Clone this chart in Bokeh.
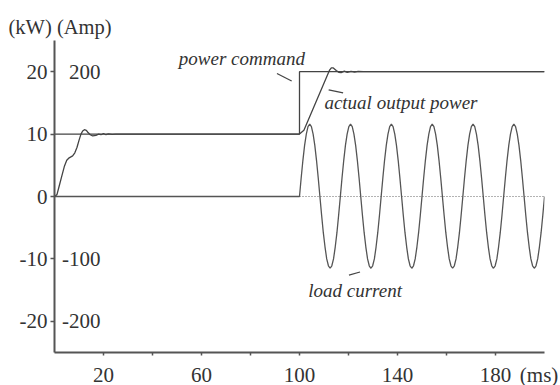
from bokeh.plotting import figure
from bokeh.models import FixedTicker, Label, Range1d, LinearAxis
from bokeh.embed import file_html
from bokeh.resources import INLINE

# ---------------- data ----------------
# power command (kW) vs time (ms)
cmd_t = [0, 100, 100, 200]
cmd_kw = [10, 10, 20, 20]

# actual output power (kW) vs time (ms)
act_t = [0, 1.0, 2.0, 3.0, 4.0, 5.0, 6.0, 7.4, 8.3, 9.2, 10.0, 10.8, 11.5, 12.2, 13.0,
         13.6, 14.6, 15.6, 16.9, 18.0, 19.0, 20.0, 21.0, 22.0, 23.5, 25.0, 100.0,
         101.8, 112.2, 113.0, 113.8, 115.0, 116.0, 117.0, 118.3, 119.5, 121.0, 122.5,
         124.0, 126.0, 200.0]
act_kw = [0, 0.3, 1.8, 3.3, 4.8, 5.8, 6.2, 6.5, 7.0, 7.9, 9.0, 10.0, 10.5, 10.7, 10.6,
          10.3, 9.9, 9.7, 9.8, 10.0, 9.9, 10.1, 9.9, 10.05, 9.95, 10.0, 10.0,
          10.6, 20.2, 20.6, 20.6, 20.2, 19.9, 19.85, 20.1, 19.9, 20.05, 19.95,
          20.05, 20.0, 20.0]

# load current (Amp) vs time (ms)
cur_t = [0,
         100.00, 100.69, 101.39, 102.08, 102.78, 103.47, 104.17, 104.86, 105.56, 106.25, 106.94, 107.64,
         108.33, 109.03, 109.72, 110.42, 111.11, 111.81, 112.50, 113.19, 113.89, 114.58, 115.28, 115.97,
         116.67, 117.36, 118.06, 118.75, 119.44, 120.14, 120.83, 121.53, 122.22, 122.92, 123.61, 124.31,
         125.00, 125.69, 126.39, 127.08, 127.78, 128.47, 129.17, 129.86, 130.56, 131.25, 131.94, 132.64,
         133.33, 134.03, 134.72, 135.42, 136.11, 136.81, 137.50, 138.19, 138.89, 139.58, 140.28, 140.97,
         141.67, 142.36, 143.06, 143.75, 144.44, 145.14, 145.83, 146.53, 147.22, 147.92, 148.61, 149.31,
         150.00, 150.69, 151.39, 152.08, 152.78, 153.47, 154.17, 154.86, 155.56, 156.25, 156.94, 157.64,
         158.33, 159.03, 159.72, 160.42, 161.11, 161.81, 162.50, 163.19, 163.89, 164.58, 165.28, 165.97,
         166.67, 167.36, 168.06, 168.75, 169.44, 170.14, 170.83, 171.53, 172.22, 172.92, 173.61, 174.31,
         175.00, 175.69, 176.39, 177.08, 177.78, 178.47, 179.17, 179.86, 180.56, 181.25, 181.94, 182.64,
         183.33, 184.03, 184.72, 185.42, 186.11, 186.81, 187.50, 188.19, 188.89, 189.58, 190.28, 190.97,
         191.67, 192.36, 193.06, 193.75, 194.44, 195.14, 195.83, 196.53, 197.22, 197.92, 198.61, 199.31,
         200.00]
cur_a = [0,
         0, 30, 58, 82, 100, 112, 116, 112, 100, 82, 58, 30,
         0, -30, -58, -81, -100, -111, -115, -111, -100, -81, -58, -30,
         0, 30, 58, 82, 100, 112, 116, 112, 100, 82, 58, 30,
         0, -30, -58, -81, -100, -111, -115, -111, -100, -81, -58, -30,
         0, 30, 58, 82, 100, 112, 116, 112, 100, 82, 58, 30,
         0, -30, -58, -81, -100, -111, -115, -111, -100, -81, -58, -30,
         0, 30, 58, 82, 100, 112, 116, 112, 100, 82, 58, 30,
         0, -30, -58, -81, -100, -111, -115, -111, -100, -81, -58, -30,
         0, 30, 58, 82, 100, 112, 116, 112, 100, 82, 58, 30,
         0, -30, -58, -81, -100, -111, -115, -111, -100, -81, -58, -30,
         0, 30, 58, 82, 100, 112, 116, 112, 100, 82, 58, 30,
         0, -30, -58, -81, -100, -111, -115, -111, -100, -81, -58, -30,
         0]

# zero reference (dotted) after the load is applied
zero_t = [100, 200]
zero_v = [0, 0]

# ticks
x_ticks = [20, 40, 60, 80, 100, 120, 140, 160, 180]
x_label_ticks = [20, 60, 100, 140, 180, 197.8]
x_label_text = {20: "20", 60: "60", 100: "100", 140: "140", 180: "180", 197.8: "(ms)"}
kw_ticks = [-20, -10, 0, 10, 20]
kw_tick_labels = {-20: "-20", -10: "-10", 0: "0", 10: "10", 20: "20"}
amp_labels = ["200", "-100", "-200"]
amp_label_vals = [200, -100, -200]

# ---------------- styling ----------------
FONT = "Liberation Serif"
TXT = "#333333"
LINE = "#444444"
AXC = "#555555"
FS = "21px"      # upright texts
FSI = "19px"     # italic annotations

p = figure(frame_width=490, frame_height=312, x_range=(0, 200), y_range=(-25, 25),
           output_backend="svg", toolbar_location=None,
           min_border_left=54, min_border_top=40, min_border_right=16, min_border_bottom=33)
p.extra_y_ranges = {"amp": Range1d(-250, 250)}
p.grid.visible = False
p.outline_line_color = None
p.background_fill_color = "white"
p.border_fill_color = "white"

def style_axis(ax):
    ax.major_label_text_font = FONT
    ax.major_label_text_font_size = FS
    ax.major_label_text_color = TXT
    ax.minor_tick_line_color = None

for ax in (p.xaxis[0], p.yaxis[0]):
    style_axis(ax)
    ax.axis_line_color = AXC
    ax.axis_line_width = 2
    ax.major_tick_line_color = AXC
    ax.major_tick_line_width = 1.5
    ax.major_tick_in = 0

# time axis: line and tick marks only (labels not drawn)
p.xaxis.ticker = FixedTicker(ticks=x_ticks)
p.xaxis.major_tick_out = 3
p.xaxis.major_label_standoff = 0
p.xaxis.major_label_text_font_size = "1px"
p.xaxis.major_label_text_color = None

# time axis labels (incl. unit) on a second, line-less axis just below
xlab = LinearAxis(ticker=FixedTicker(ticks=x_label_ticks), major_label_overrides=x_label_text,
                  axis_line_color=None, major_tick_line_color=None,
                  major_tick_out=0, major_tick_in=0, major_label_standoff=7)
style_axis(xlab)
p.add_layout(xlab, "below")

p.yaxis.ticker = FixedTicker(ticks=kw_ticks)
p.yaxis.major_label_overrides = kw_tick_labels
p.yaxis.major_tick_out = 4
p.yaxis.major_label_standoff = 3

# unit title "(kW) (Amp)"
p.title.text = "(kW) (Amp)"
p.title.align = "left"
p.title.offset = -46
p.title.text_font = FONT
p.title.text_font_size = "20.5px"
p.title.text_font_style = "normal"
p.title.text_color = TXT
p.title.standoff = 5

# curves
p.line(zero_t, zero_v, line_color="#666666", line_width=1.2, line_dash="1 2")
p.line(cur_t, cur_a, y_range_name="amp", line_color="#555555", line_width=1.3)
p.line(cmd_t, cmd_kw, line_color=LINE, line_width=1.3)
p.line(act_t, act_kw, line_color=LINE, line_width=1.3)

# annotation leaders
p.segment(x0=[90.8, 111.9, 120.2], y0=[19.7, 17.1, -12.6],
          x1=[96.8, 117.8, 124.7], y1=[18.5, 16.6, -12.1],
          line_color="#444444", line_width=1.2)

def lab(text, x, y, xo=0, yo=0, align="center", italic=False):
    p.add_layout(Label(x=x, y=y, x_offset=xo, y_offset=yo, text=text,
                       text_font=FONT, text_font_size=FSI if italic else FS,
                       text_color=TXT, text_align=align, text_baseline="middle",
                       text_font_style="italic" if italic else "normal"))

lab("power command", 76.5, 22.1, italic=True)
lab("actual output power", 141.4, 15.0, italic=True)
lab("load current", 122.7, -15.0, italic=True)

# secondary (Amp) labels, inside the axis
for t, v in zip(amp_labels, amp_label_vals):
    lab(t, 0, v / 10.0, xo=46, align="right")

open("out.html", "w").write(file_html(p, INLINE))
